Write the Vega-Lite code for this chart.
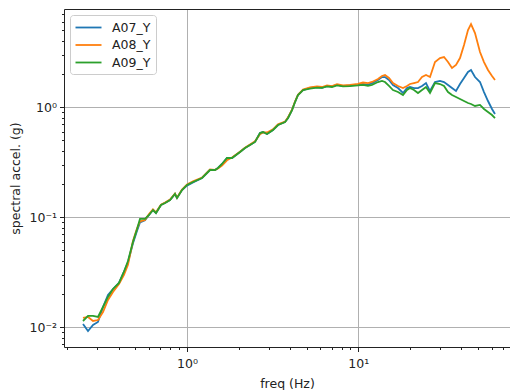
{
  "$schema": "https://vega.github.io/schema/vega-lite/v6.json",
  "width": 446,
  "height": 338,
  "autosize": "none",
  "padding": {"left": 64, "top": 9, "right": 0, "bottom": 43},
  "config": {
    "view": {"stroke": null},
    "font": "DejaVu Sans",
    "axis": {
      "domainColor": "#222222",
      "domainWidth": 1,
      "tickColor": "#222222",
      "tickWidth": 1,
      "gridColor": "#b0b0b0",
      "gridWidth": 1,
      "labelFont": "DejaVu Sans",
      "labelFontSize": 12.5,
      "labelColor": "#222222",
      "titleFont": "DejaVu Sans",
      "titleFontSize": 12.5,
      "titleFontWeight": "normal",
      "titleColor": "#222222"
    }
  },
  "data": {
    "values": [
      {"f": 0.2471, "A07_Y": 0.01072, "A08_Y": 0.01215, "A09_Y": 0.01141},
      {"f": 0.2643, "A07_Y": 0.00925, "A08_Y": 0.01242, "A09_Y": 0.01268},
      {"f": 0.2827, "A07_Y": 0.01050, "A08_Y": 0.01141, "A09_Y": 0.01268},
      {"f": 0.3022, "A07_Y": 0.01117, "A08_Y": 0.01164, "A09_Y": 0.01242},
      {"f": 0.3233, "A07_Y": 0.01530, "A08_Y": 0.01377, "A09_Y": 0.01530},
      {"f": 0.3457, "A07_Y": 0.01968, "A08_Y": 0.01770, "A09_Y": 0.01888},
      {"f": 0.3698, "A07_Y": 0.02230, "A08_Y": 0.02094, "A09_Y": 0.02230},
      {"f": 0.4009, "A07_Y": 0.02529, "A08_Y": 0.02477, "A09_Y": 0.02529},
      {"f": 0.4287, "A07_Y": 0.0320, "A08_Y": 0.0300, "A09_Y": 0.0320},
      {"f": 0.4523, "A07_Y": 0.0390, "A08_Y": 0.0370, "A09_Y": 0.0400},
      {"f": 0.4838, "A07_Y": 0.0580, "A08_Y": 0.0610, "A09_Y": 0.0600},
      {"f": 0.5105, "A07_Y": 0.0750, "A08_Y": 0.0790, "A09_Y": 0.0780},
      {"f": 0.5315, "A07_Y": 0.0900, "A08_Y": 0.0920, "A09_Y": 0.0966},
      {"f": 0.5685, "A07_Y": 0.0940, "A08_Y": 0.0945, "A09_Y": 0.0966},
      {"f": 0.6000, "A07_Y": 0.1050, "A08_Y": 0.1070, "A09_Y": 0.1050},
      {"f": 0.6331, "A07_Y": 0.1165, "A08_Y": 0.1180, "A09_Y": 0.1165},
      {"f": 0.6592, "A07_Y": 0.1094, "A08_Y": 0.1110, "A09_Y": 0.1094},
      {"f": 0.7050, "A07_Y": 0.1294, "A08_Y": 0.1300, "A09_Y": 0.1294},
      {"f": 0.7440, "A07_Y": 0.1349, "A08_Y": 0.1360, "A09_Y": 0.1349},
      {"f": 0.7959, "A07_Y": 0.1436, "A08_Y": 0.1450, "A09_Y": 0.1436},
      {"f": 0.8508, "A07_Y": 0.1629, "A08_Y": 0.1640, "A09_Y": 0.1629},
      {"f": 0.8743, "A07_Y": 0.1497, "A08_Y": 0.1510, "A09_Y": 0.1497},
      {"f": 0.9350, "A07_Y": 0.1771, "A08_Y": 0.1790, "A09_Y": 0.1771},
      {"f": 1.000, "A07_Y": 0.1940, "A08_Y": 0.1990, "A09_Y": 0.1967},
      {"f": 1.084, "A07_Y": 0.2070, "A08_Y": 0.2120, "A09_Y": 0.2094},
      {"f": 1.224, "A07_Y": 0.2277, "A08_Y": 0.2300, "A09_Y": 0.2277},
      {"f": 1.362, "A07_Y": 0.2692, "A08_Y": 0.2720, "A09_Y": 0.2692},
      {"f": 1.457, "A07_Y": 0.2692, "A08_Y": 0.2700, "A09_Y": 0.2692},
      {"f": 1.517, "A07_Y": 0.2807, "A08_Y": 0.2780, "A09_Y": 0.2807},
      {"f": 1.601, "A07_Y": 0.3053, "A08_Y": 0.2950, "A09_Y": 0.3053},
      {"f": 1.712, "A07_Y": 0.3461, "A08_Y": 0.3300, "A09_Y": 0.3461},
      {"f": 1.831, "A07_Y": 0.3461, "A08_Y": 0.3500, "A09_Y": 0.3461},
      {"f": 2.039, "A07_Y": 0.3926, "A08_Y": 0.3950, "A09_Y": 0.3926},
      {"f": 2.181, "A07_Y": 0.4266, "A08_Y": 0.4300, "A09_Y": 0.4266},
      {"f": 2.332, "A07_Y": 0.4540, "A08_Y": 0.4600, "A09_Y": 0.4540},
      {"f": 2.495, "A07_Y": 0.4840, "A08_Y": 0.4900, "A09_Y": 0.4840},
      {"f": 2.668, "A07_Y": 0.5836, "A08_Y": 0.5700, "A09_Y": 0.5836},
      {"f": 2.778, "A07_Y": 0.5957, "A08_Y": 0.5900, "A09_Y": 0.5957},
      {"f": 2.931, "A07_Y": 0.5715, "A08_Y": 0.5900, "A09_Y": 0.5715},
      {"f": 3.177, "A07_Y": 0.6218, "A08_Y": 0.6300, "A09_Y": 0.6218},
      {"f": 3.398, "A07_Y": 0.6902, "A08_Y": 0.7000, "A09_Y": 0.6902},
      {"f": 3.734, "A07_Y": 0.7345, "A08_Y": 0.7400, "A09_Y": 0.7345},
      {"f": 3.888, "A07_Y": 0.7992, "A08_Y": 0.8100, "A09_Y": 0.7992},
      {"f": 4.102, "A07_Y": 0.9443, "A08_Y": 0.9500, "A09_Y": 0.9443},
      {"f": 4.271, "A07_Y": 1.117, "A08_Y": 1.130, "A09_Y": 1.117},
      {"f": 4.446, "A07_Y": 1.294, "A08_Y": 1.300, "A09_Y": 1.294},
      {"f": 4.755, "A07_Y": 1.436, "A08_Y": 1.450, "A09_Y": 1.436},
      {"f": 5.224, "A07_Y": 1.500, "A08_Y": 1.520, "A09_Y": 1.480},
      {"f": 5.741, "A07_Y": 1.530, "A08_Y": 1.550, "A09_Y": 1.510},
      {"f": 6.139, "A07_Y": 1.500, "A08_Y": 1.530, "A09_Y": 1.500},
      {"f": 6.566, "A07_Y": 1.560, "A08_Y": 1.580, "A09_Y": 1.550},
      {"f": 7.022, "A07_Y": 1.550, "A08_Y": 1.560, "A09_Y": 1.530},
      {"f": 7.510, "A07_Y": 1.600, "A08_Y": 1.620, "A09_Y": 1.580},
      {"f": 8.140, "A07_Y": 1.560, "A08_Y": 1.580, "A09_Y": 1.550},
      {"f": 8.947, "A07_Y": 1.580, "A08_Y": 1.600, "A09_Y": 1.560},
      {"f": 9.959, "A07_Y": 1.600, "A08_Y": 1.630, "A09_Y": 1.580},
      {"f": 10.65, "A07_Y": 1.630, "A08_Y": 1.680, "A09_Y": 1.600},
      {"f": 11.39, "A07_Y": 1.600, "A08_Y": 1.660, "A09_Y": 1.570},
      {"f": 12.02, "A07_Y": 1.660, "A08_Y": 1.700, "A09_Y": 1.600},
      {"f": 13.03, "A07_Y": 1.771, "A08_Y": 1.808, "A09_Y": 1.698},
      {"f": 13.75, "A07_Y": 1.885, "A08_Y": 1.926, "A09_Y": 1.735},
      {"f": 14.32, "A07_Y": 1.885, "A08_Y": 1.967, "A09_Y": 1.698},
      {"f": 15.11, "A07_Y": 1.771, "A08_Y": 1.846, "A09_Y": 1.563},
      {"f": 15.94, "A07_Y": 1.596, "A08_Y": 1.663, "A09_Y": 1.436},
      {"f": 17.05, "A07_Y": 1.497, "A08_Y": 1.563, "A09_Y": 1.377},
      {"f": 18.24, "A07_Y": 1.349, "A08_Y": 1.497, "A09_Y": 1.294},
      {"f": 19.24, "A07_Y": 1.497, "A08_Y": 1.563, "A09_Y": 1.436},
      {"f": 20.04, "A07_Y": 1.530, "A08_Y": 1.629, "A09_Y": 1.497},
      {"f": 21.14, "A07_Y": 1.497, "A08_Y": 1.663, "A09_Y": 1.436},
      {"f": 22.31, "A07_Y": 1.497, "A08_Y": 1.698, "A09_Y": 1.349},
      {"f": 23.55, "A07_Y": 1.563, "A08_Y": 1.885, "A09_Y": 1.436},
      {"f": 24.85, "A07_Y": 1.663, "A08_Y": 1.967, "A09_Y": 1.530},
      {"f": 26.22, "A07_Y": 1.406, "A08_Y": 1.885, "A09_Y": 1.349},
      {"f": 28.04, "A07_Y": 1.698, "A08_Y": 2.580, "A09_Y": 1.663},
      {"f": 29.99, "A07_Y": 1.735, "A08_Y": 2.806, "A09_Y": 1.629},
      {"f": 31.65, "A07_Y": 1.698, "A08_Y": 2.866, "A09_Y": 1.563},
      {"f": 33.40, "A07_Y": 1.596, "A08_Y": 2.580, "A09_Y": 1.377},
      {"f": 35.24, "A07_Y": 1.497, "A08_Y": 2.276, "A09_Y": 1.294},
      {"f": 37.19, "A07_Y": 1.406, "A08_Y": 2.425, "A09_Y": 1.241},
      {"f": 39.25, "A07_Y": 1.629, "A08_Y": 2.806, "A09_Y": 1.190},
      {"f": 41.42, "A07_Y": 1.846, "A08_Y": 3.684, "A09_Y": 1.141},
      {"f": 43.70, "A07_Y": 2.094, "A08_Y": 5.045, "A09_Y": 1.094},
      {"f": 45.50, "A07_Y": 2.183, "A08_Y": 5.717, "A09_Y": 1.072},
      {"f": 48.01, "A07_Y": 1.885, "A08_Y": 4.735, "A09_Y": 1.028},
      {"f": 51.34, "A07_Y": 1.698, "A08_Y": 3.183, "A09_Y": 1.050},
      {"f": 54.18, "A07_Y": 1.377, "A08_Y": 2.580, "A09_Y": 0.966},
      {"f": 57.17, "A07_Y": 1.141, "A08_Y": 2.183, "A09_Y": 0.906},
      {"f": 60.33, "A07_Y": 0.966, "A08_Y": 1.926, "A09_Y": 0.851},
      {"f": 62.81, "A07_Y": 0.869, "A08_Y": 1.771, "A09_Y": 0.799}
    ]
  },
  "transform": [{"fold": ["A07_Y", "A08_Y", "A09_Y"], "as": ["series", "v"]}],
  "layer": [
    {
      "mark": {"type": "line", "strokeWidth": 1.8, "clip": true},
      "encoding": {
        "x": {
          "field": "f",
          "type": "quantitative",
          "scale": {"type": "log", "domain": [0.1914, 76.85], "nice": false},
          "axis": {
            "title": "freq (Hz)",
            "titlePadding": 7,
            "values": [0.2, 0.3, 0.4, 0.5, 0.6, 0.7, 0.8, 0.9, 1, 2, 3, 4, 5, 6, 7, 8, 9, 10, 20, 30, 40, 50, 60, 70],
            "labelExpr": "datum.value == 1 ? '10⁰' : datum.value == 10 ? '10¹' : ''",
            "labelPadding": 6,
            "labelFlush": false,
            "labelOverlap": false,
            "tickSize": {"condition": {"test": "datum.value == 1 || datum.value == 10", "value": 4.5}, "value": 2.5},
            "grid": true,
            "gridOpacity": {"condition": {"test": "datum.value == 1 || datum.value == 10", "value": 1}, "value": 0}
          }
        },
        "y": {
          "field": "v",
          "type": "quantitative",
          "scale": {"type": "log", "domain": [0.00662, 7.83], "nice": false},
          "axis": {
            "title": "spectral accel. (g)",
            "titlePadding": 6,
            "values": [0.007, 0.008, 0.009, 0.01, 0.02, 0.03, 0.04, 0.05, 0.06, 0.07, 0.08, 0.09, 0.1, 0.2, 0.3, 0.4, 0.5, 0.6, 0.7, 0.8, 0.9, 1, 2, 3, 4, 5, 6, 7],
            "labelExpr": "datum.value == 0.01 ? '10⁻²' : datum.value == 0.1 ? '10⁻¹' : datum.value == 1 ? '10⁰' : ''",
            "labelPadding": 3,
            "labelFlush": false,
            "labelOverlap": false,
            "tickSize": {"condition": {"test": "datum.value == 0.01 || datum.value == 0.1 || datum.value == 1", "value": 4.5}, "value": 2.5},
            "grid": true,
            "gridOpacity": {"condition": {"test": "datum.value == 0.01 || datum.value == 0.1 || datum.value == 1", "value": 1}, "value": 0}
          }
        },
        "color": {
          "field": "series",
          "type": "nominal",
          "scale": {"domain": ["A07_Y", "A08_Y", "A09_Y"], "range": ["#1f77b4", "#ff7f0e", "#2ca02c"]},
          "legend": {
            "title": null,
            "orient": "top-left",
            "offset": 6,
            "padding": 5,
            "fillColor": "#ffffff",
            "strokeColor": "#cccccc",
            "cornerRadius": 3,
            "symbolType": "M-2,0H2",
            "symbolSize": 169,
            "symbolOffset": 6,
            "symbolStrokeWidth": 1.8,
            "symbolFillColor": "transparent",
            "labelFontSize": 12.5,
            "labelFont": "DejaVu Sans",
            "labelColor": "#222222",
            "labelOffset": 16,
            "rowPadding": 3.5
          }
        }
      }
    },
    {
      "mark": {"type": "line", "opacity": 0},
      "encoding": {
        "x": {
          "field": "f",
          "type": "quantitative",
          "axis": {"orient": "top", "title": null, "labels": false, "ticks": false, "grid": false, "domain": true}
        },
        "y": {"field": "v", "type": "quantitative"}
      }
    }
  ],
  "resolve": {"axis": {"x": "independent"}}
}
